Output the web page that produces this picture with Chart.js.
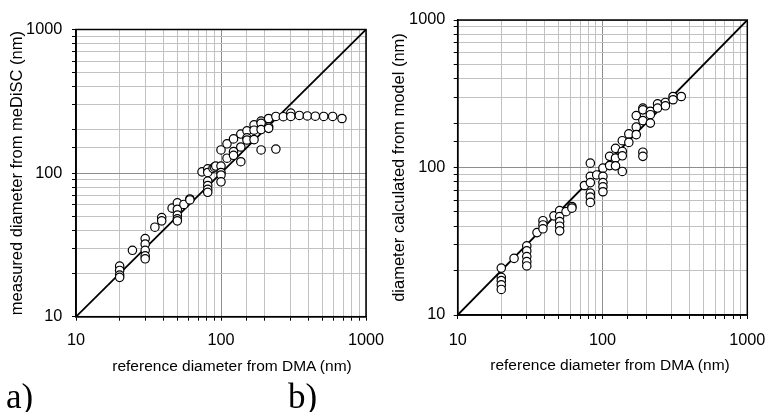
<!DOCTYPE html>
<html lang="en">
<head>
<meta charset="UTF-8">
<title>meDiSC vs DMA diameter</title>
<style>
  body { margin: 0; background: #fff; }
  .wrap { position: relative; width: 766px; height: 412px; overflow: hidden; font-family: Arial, "Liberation Sans", sans-serif; color: #000; }
  .panel { position: absolute; top: 0; }
  .xtitle { position: absolute; font-size: 15.5px; white-space: nowrap; transform: translate(-50%, -50%); }
  .tag { position: absolute; font-family: "Times New Roman", "Liberation Serif", serif; font-size: 35px; line-height: 1; }
</style>
<script src="https://cdn.jsdelivr.net/npm/chart.js@4"></script>
</head>
<body>
<div class="wrap">
  <canvas id="chartA" class="panel" style="left:0" width="400" height="412"></canvas>
  <canvas id="chartB" class="panel" style="left:383px" width="383" height="412"></canvas>
  <div class="xtitle" style="left:232px; top:366px">reference diameter from DMA (nm)</div>
  <div class="xtitle" style="left:610px; top:365px">reference diameter from DMA (nm)</div>
  <div class="tag" style="left:6px; top:379px">a)</div>
  <div class="tag" style="left:288px; top:379px">b)</div>
</div>
<script>
// a) measured (meDiSC) vs reference (DMA) diameter, nm
const dmaA = [20, 20, 20, 20, 24.5, 30, 30, 30, 30, 30, 35, 39, 39, 46, 50, 50, 50, 50, 50, 55.5, 61, 61, 74,
  81, 81, 81, 81, 81, 81, 88, 90, 92, 100, 100, 100, 100, 100, 110, 110, 122, 122, 122, 137, 137, 137,
  151, 151, 151, 169, 169, 169, 189, 189, 189, 189, 213, 213, 213, 239, 239, 269, 303, 303, 347, 394, 447, 511, 589, 683];
const discA = [22.5, 21, 19.5, 18.8, 29, 35, 32, 29, 26.5, 25.3, 42, 49, 46.5, 57, 62, 56, 51, 48, 46.5, 60.5, 66, 65, 102,
  107, 101, 88, 82, 77, 73.5, 108, 110, 112, 145, 112, 101, 97, 87, 160, 127, 173, 141, 133, 187, 152, 120,
  197, 176, 170, 217, 199, 171, 230, 222, 201, 145, 240, 210, 205, 248, 147, 247, 262, 248, 252, 250, 249, 248, 248, 240];

// b) model-calculated vs reference (DMA) diameter, nm
const dmaB = [20, 20, 20, 20, 20, 24.5, 30, 30, 30, 30, 30, 35.3, 38.8, 38.8, 38.8, 46.2, 50.6, 50.6, 50.6, 50.6, 50.6,
  56, 61.5, 61.5, 75, 82.4, 82.4, 82.4, 82.4, 82.4, 82.4, 91.2, 100.7, 100.7, 100.7, 100.7, 100.7, 112, 112,
  123, 123, 123, 137, 137, 137, 137, 152, 152, 171, 171, 171, 190, 190, 190, 190, 190, 214, 214, 214,
  240, 240, 272, 272, 307, 307, 350];
const modelB = [20.8, 18, 17.1, 16, 14.9, 24.2, 29.4, 27.2, 24.9, 23, 21.5, 36.2, 43.6, 40.8, 38.4, 47, 51, 46.5, 43, 40, 37.2,
  50.2, 54.4, 53, 75.5, 107, 87, 79, 67, 63, 58, 89, 99, 87, 79, 74, 68.5, 119, 103,
  135, 116, 102.6, 152, 128.5, 120, 94, 169, 148, 225, 188, 167, 253, 246, 208, 127, 119, 240, 228, 200,
  270, 253, 276, 262, 303, 288, 303];

const diagonal = [10, 1000];
const labelTicks = [10, 100, 1000];

function isDecade(v) {
  return labelTicks.some(t => Math.abs(v - t) < 1e-6);
}

// black box round the plot area
const frame = {
  id: 'frame',
  beforeDatasetsDraw(chart) {
    const a = chart.chartArea;
    const ctx = chart.ctx;
    ctx.save();
    ctx.strokeStyle = '#000';
    ctx.lineWidth = 1.5;
    ctx.strokeRect(a.left, a.top, a.right - a.left, a.bottom - a.top);
    ctx.restore();
  }
};

function axis(extra) {
  return Object.assign({
    type: 'logarithmic',
    min: 10,
    max: 1000,
    border: { color: '#000', width: 1.5 },
    grid: {
      color: c => isDecade(c.tick.value) ? '#8e8e8e' : '#c2c2c2',
      lineWidth: 1,
      tickLength: 4,
      tickColor: '#000'
    },
    ticks: {
      autoSkip: false,
      maxRotation: 0,
      color: '#000',
      font: { family: 'Arial, "Liberation Sans", sans-serif', size: 16.3 },
      callback: v => isDecade(v) ? String(Math.round(v)) : ''
    }
  }, extra);
}

function makePanel(id, xs, ys, yTitle, box) {
  const points = xs.map((x, i) => ({ x: x, y: ys[i] }));
  const xAxis = axis({
    afterFit(s) { s.height = box.xh; s.paddingLeft = 0; s.paddingRight = 0; }
  });
  xAxis.ticks.padding = box.xpad;
  const yAxis = axis({
    title: {
      display: true,
      text: yTitle,
      color: '#000',
      font: { family: 'Arial, "Liberation Sans", sans-serif', size: 16.5 },
      padding: { top: box.tpad, bottom: 0 }
    },
    afterFit(s) { s.width = box.yw; s.paddingTop = 0; s.paddingBottom = 0; }
  });
  yAxis.ticks.padding = box.ypad;

  return new Chart(document.getElementById(id), {
    type: 'scatter',
    data: {
      datasets: [
        {
          data: points,
          pointRadius: 4.2,
          pointBackgroundColor: '#fff',
          pointBorderColor: '#000',
          pointBorderWidth: 1.2
        },
        {
          data: diagonal.map(v => ({ x: v, y: v })),
          showLine: true,
          pointRadius: 0,
          borderColor: '#000',
          borderWidth: 1.8
        }
      ]
    },
    options: {
      responsive: false,
      animation: false,
      layout: { padding: { top: box.top, right: box.right, bottom: 0, left: 0 } },
      plugins: { legend: { display: false }, tooltip: { enabled: false } },
      scales: { x: xAxis, y: yAxis }
    },
    plugins: [frame]
  });
}

makePanel('chartA', dmaA, discA, 'measured diameter from meDiSC (nm)',
  { top: 29.5, right: 34, xh: 95.3, yw: 76, xpad: 10.5, ypad: 9.7, tpad: 7.8 });
makePanel('chartB', dmaB, modelB, 'diameter calculated from model (nm)',
  { top: 20, right: 18.7, xh: 97, yw: 74.7, xpad: 12, ypad: 8.4, tpad: 6.8 });
</script>
</body>
</html>
